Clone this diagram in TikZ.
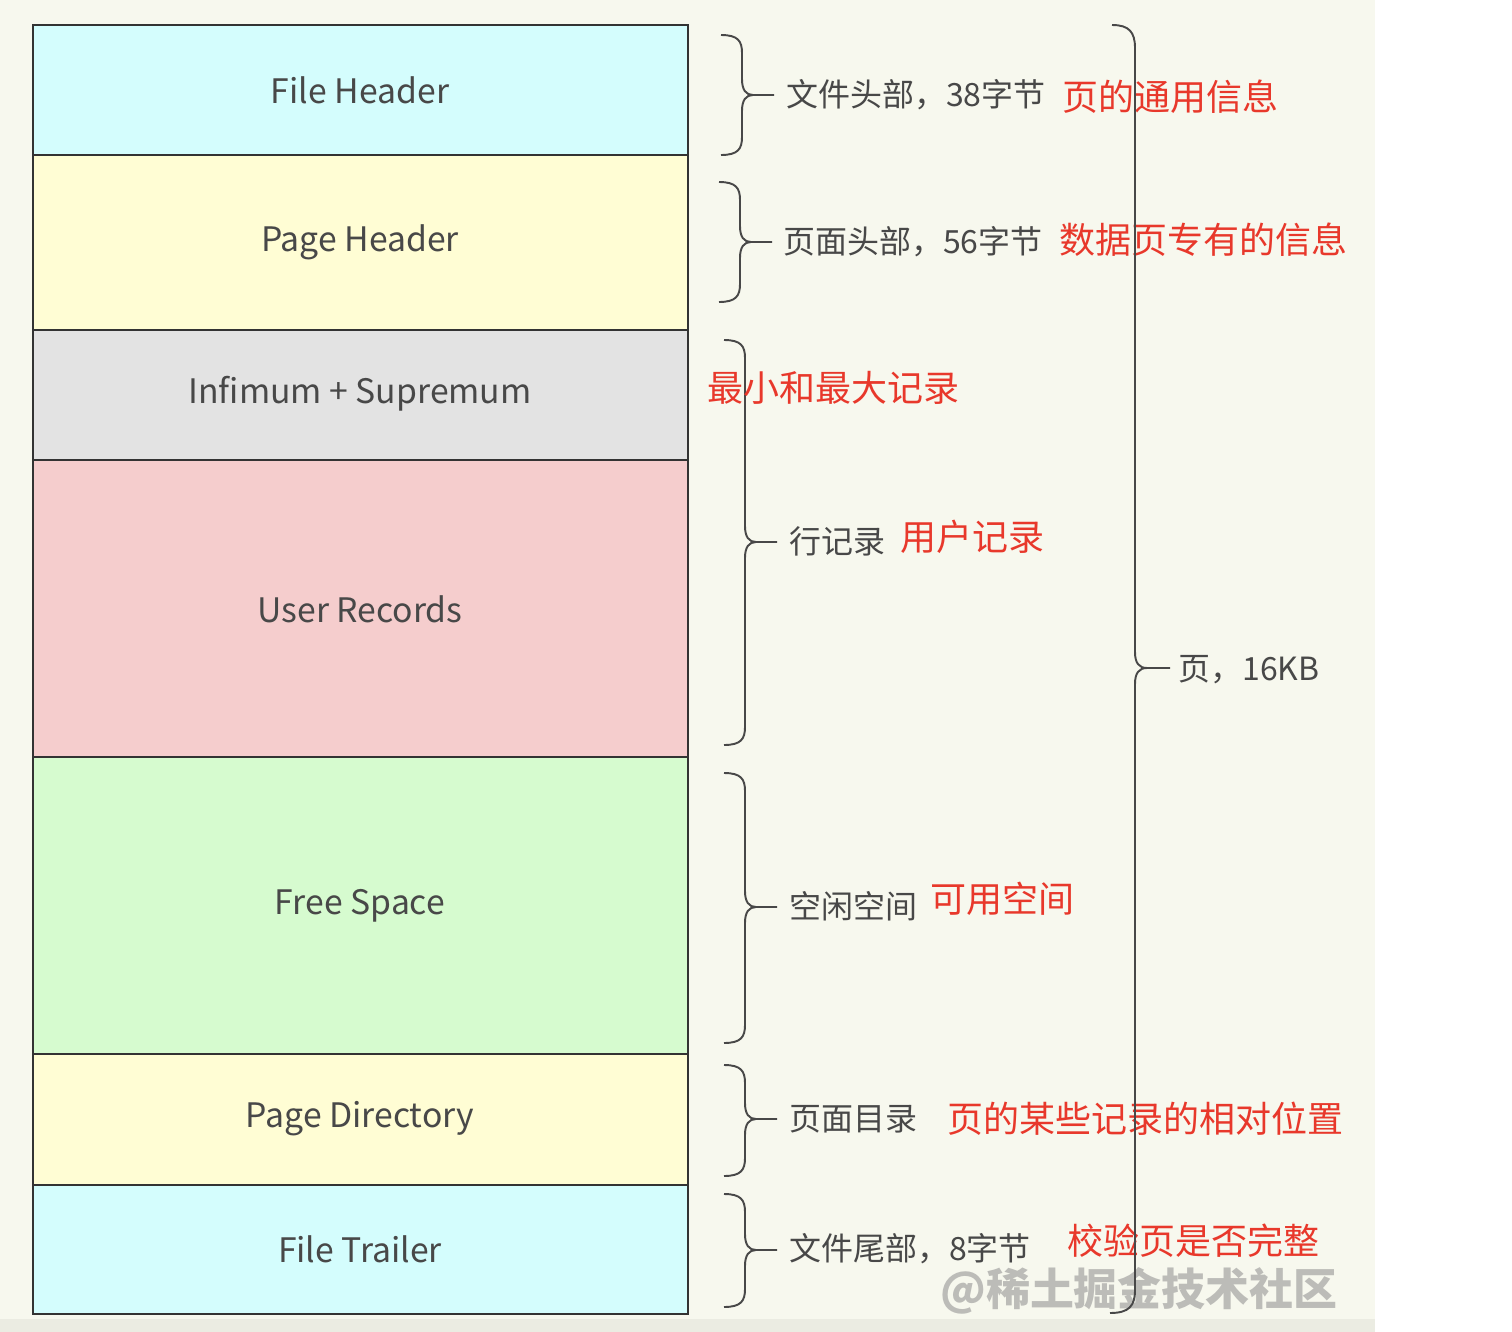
\documentclass[tikz,border=0pt]{standalone}
\usepackage{fontspec}
\setmainfont{Noto Sans CJK SC}
\definecolor{bgc}{HTML}{F7F8EE}
\definecolor{cyanf}{HTML}{D4FDFD}
\definecolor{yelf}{HTML}{FFFDD4}
\definecolor{grayf}{HTML}{E3E3E3}
\definecolor{pinkf}{HTML}{F5CDCD}
\definecolor{greenf}{HTML}{D6FBCF}
\definecolor{edgec}{HTML}{333333}
\definecolor{txtc}{HTML}{484848}
\definecolor{redc}{HTML}{E8382B}
\definecolor{wmc}{HTML}{BCBCB8}
\newcommand\curlybr[4]{% #1 x of tips, #2 ytop, #3 ymid, #4 ybot
  \draw[bracest] (#1,#2) .. controls ({#1+17},#2) and ({#1+21},{#2+6}) .. ({#1+21},{#2+18})
    -- ({#1+21},{#3-16}) .. controls ({#1+21},{#3-5}) and ({#1+25},#3) .. ({#1+32},#3)
    -- ({#1+53},#3);
  \draw[bracest] ({#1+32},#3) .. controls ({#1+25},#3) and ({#1+21},{#3+5}) .. ({#1+21},{#3+16})
    -- ({#1+21},{#4-18}) .. controls ({#1+21},{#4-6}) and ({#1+17},#4) .. (#1,#4);
}
\begin{document}
\begin{tikzpicture}[x=0.02cm,y=-0.02cm,
  boxst/.style={draw=edgec, line width=1.4pt},
  bracest/.style={draw=txtc, line width=1.1pt},
  lbl/.style={text=txtc, font=\fontsize{19.2}{23}\selectfont, inner sep=0pt},
  gtxt/.style={text=txtc, anchor=west, font=\fontsize{18.2}{22}\selectfont, inner sep=0pt},
  rtxt/.style={text=redc, anchor=west, font=\fontsize{20.5}{24}\selectfont, inner sep=0pt}]
\useasboundingbox (0,0) rectangle (1512,1332);
\fill[white] (0,0) rectangle (1512,1332);
\fill[bgc] (0,0) rectangle (1375,1332);
\fill[bgc!95!black] (0,1319) rectangle (1375,1332);
% boxes
\path[boxst, fill=cyanf] (33,25) rectangle (688,155);
\path[boxst, fill=yelf] (33,155) rectangle (688,330);
\path[boxst, fill=grayf] (33,330) rectangle (688,460);
\path[boxst, fill=pinkf] (33,460) rectangle (688,757);
\path[boxst, fill=greenf] (33,757) rectangle (688,1054);
\path[boxst, fill=yelf] (33,1054) rectangle (688,1185);
\path[boxst, fill=cyanf] (33,1185) rectangle (688,1314);
\node[lbl] (fh) at (360,90) {File Header};
\node[lbl] (ph) at (360,242) {Page Header};
\node[lbl] (is) at (360,394) {Infimum + Supremum};
\node[lbl] (ur) at (360,609) {User Records};
\node[lbl] (fs) at (360,906) {Free Space};
\node[lbl] (pd) at (360,1119) {Page Directory};
\node[lbl] (ft) at (360,1249) {File Trailer};
% small braces
\curlybr{721}{35}{95}{155}
\curlybr{719}{182}{242}{302}
\curlybr{724}{340}{542}{745}
\curlybr{724}{773}{907}{1043}
\curlybr{724}{1065}{1119}{1176}
\curlybr{724}{1194}{1250}{1307}
% texts
\node[gtxt] (t1) at (786,95) {文件头部，38字节};
\node[rtxt] (r1) at (1062,97) {页的通用信息};
\node[gtxt] (t2) at (783,242) {页面头部，56字节};
\node[rtxt] (r2) at (1059,240) {数据页专有的信息};
\node[rtxt] (r3) at (707,388) {最小和最大记录};
\node[gtxt] (t4) at (789,541) {行记录};
\node[rtxt] (r4) at (900,537) {用户记录};
\node[gtxt] (t5) at (789,906) {空闲空间};
\node[rtxt] (r5) at (930,899) {可用空间};
\node[gtxt] (t6) at (789,1119) {页面目录};
\node[rtxt] (r6) at (947,1119) {页的某些记录的相对位置};
\node[gtxt] (t7) at (789,1249) {文件尾部，8字节};
\node[rtxt] (r7) at (1067,1241) {校验页是否完整};
\node[gtxt] (t8) at (1178,670) {页，16KB};
\node[anchor=west, inner sep=0pt, text=wmc, font=\fontsize{25}{29}\selectfont\bfseries] (wm) at (940,1291) {@稀土掘金技术社区};
% big brace
\draw[bracest] (1112,25) .. controls (1129,25) and (1135,32) .. (1135,48)
  -- (1135,652) .. controls (1135,663) and (1139,668) .. (1147,668) -- (1170,668);
\draw[bracest] (1147,668) .. controls (1139,668) and (1135,673) .. (1135,684)
  -- (1135,1290) .. controls (1135,1306) and (1129,1313) .. (1110,1313);
\end{tikzpicture}
\end{document}
